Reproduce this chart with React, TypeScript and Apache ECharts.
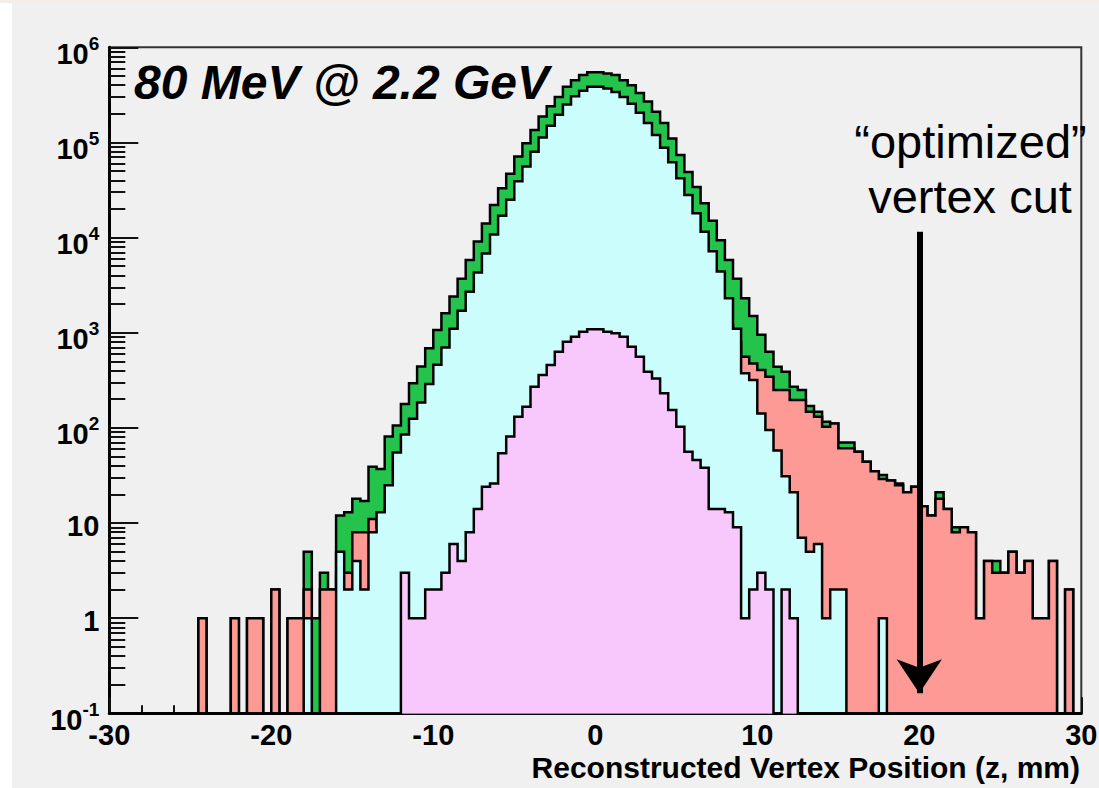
import React, { useEffect, useRef } from 'react';
import * as echarts from 'echarts';

const BIN_MIN = -30;
const BIN_WIDTH = 0.5;
const X_MIN = -30;
const X_MAX = 30;
const X_TICK = 10;
const Y_MIN = 0.1;
const Y_MAX = 1e6;
const CUT_POSITION = 20;
const ARROW_TOP = 11500;
const ARROW_END = 0.162;

// total (green)
const greenCounts = [
  0, 0, 0, 0, 0, 0, 0, 0, 0, 0,
  0, 1, 0, 0, 0, 1, 0, 1, 1, 0,
  2, 0, 1, 1, 5, 1, 3, 2, 12, 13,
  18, 17, 39, 37, 81, 106, 178, 294, 441, 686,
  1070, 1600, 2400, 3700, 5800, 9100, 14100, 22000, 33000, 47000,
  71000, 98000, 135000, 187000, 240000, 300000, 385000, 450000, 510000, 546000,
  546000, 530000, 510000, 450000, 400000, 330000, 270000, 210000, 160000, 110000,
  74000, 49000, 34000, 23000, 15000, 9400, 5800, 3700, 2300, 1500,
  950, 632, 440, 389, 271, 250, 170, 148, 116, 111,
  70, 70, 56, 44, 35, 32, 28, 26, 21, 24,
  15, 12, 21, 14, 9, 9, 8, 1, 4, 4,
  3, 5, 3, 4, 1, 1, 4, 0, 2, 0,
];

// red (salmon)
const redCounts = [
  0, 0, 0, 0, 0, 0, 0, 0, 0, 0,
  0, 1, 0, 0, 0, 1, 0, 1, 1, 0,
  2, 0, 1, 1, 2, 0, 2, 2, 3, 3,
  8, 8, 11, 9, 14, 22, 30, 45, 60, 90,
  130, 190, 280, 420, 620, 950, 1400, 2100, 3100, 4500,
  6500, 9000, 12500, 17000, 22000, 28000, 35000, 42000, 48000, 52000,
  52000, 50000, 46000, 41000, 35000, 29000, 23000, 18000, 14000, 10500,
  8000, 6000, 4500, 3300, 2400, 1700, 1200, 800, 560, 476,
  405, 345, 250, 250, 196, 196, 148, 131, 103, 111,
  61, 61, 56, 44, 35, 29, 28, 25, 21, 24,
  15, 12, 18, 14, 8, 9, 8, 1, 4, 3,
  3, 5, 3, 4, 1, 1, 4, 0, 2, 0,
];

// cyan
const cyanCounts = [
  0, 0, 0, 0, 0, 0, 0, 0, 0, 0,
  0, 0, 0, 0, 0, 0, 0, 0, 0, 0,
  0, 0, 0, 0, 1, 0, 0, 0, 5, 2,
  4, 2, 8, 13, 25, 55, 85, 125, 185, 290,
  460, 700, 1100, 1700, 2700, 4300, 6800, 10800, 17000, 25000,
  39000, 56000, 80000, 113000, 150000, 195000, 250000, 305000, 350000, 385000,
  385000, 370000, 340000, 300000, 255000, 205000, 160000, 120000, 88000, 62000,
  42000, 28000, 18000, 11500, 7200, 4400, 2300, 1100, 374, 318,
  142, 95, 58, 31, 21, 7, 5, 6, 1, 2,
  2, 0, 0, 0, 0, 1, 0, 0, 0, 0,
  0, 0, 0, 0, 0, 0, 0, 0, 0, 0,
  0, 0, 0, 0, 0, 0, 0, 0, 0, 0,
];

// pink
const pinkCounts = [
  0, 0, 0, 0, 0, 0, 0, 0, 0, 0,
  0, 0, 0, 0, 0, 0, 0, 0, 0, 0,
  0, 0, 0, 0, 0, 0, 0, 0, 0, 0,
  0, 0, 0, 0, 0, 0, 3, 1, 1, 2,
  2, 3, 6, 4, 8, 14, 24, 26, 54, 81,
  131, 167, 271, 359, 458, 632, 805, 908, 1026, 1085,
  1085, 1026, 985, 908, 713, 560, 389, 331, 231, 154,
  103, 56, 46, 38, 14, 14, 13, 9, 1, 2,
  3, 2, 0, 2, 1, 0, 0, 0, 0, 0,
  0, 0, 0, 0, 0, 0, 0, 0, 0, 0,
  0, 0, 0, 0, 0, 0, 0, 0, 0, 0,
  0, 0, 0, 0, 0, 0, 0, 0, 0, 0,
];

const FONT = '"Liberation Sans", Arial, Helvetica, sans-serif';

function toSteps(counts: number[]) {
  const pts: number[][] = counts.map((c, k) => [BIN_MIN + k * BIN_WIDTH, c > 0 ? c : Y_MIN]);
  const last = counts[counts.length - 1];
  pts.push([BIN_MIN + counts.length * BIN_WIDTH, last > 0 ? last : Y_MIN]);
  return pts;
}

function histSeries(name: string, counts: number[], fill: string, z: number) {
  return {
    type: 'line',
    name,
    step: 'end',
    z,
    data: toSteps(counts),
    showSymbol: false,
    symbol: 'none',
    silent: true,
    clip: true,
    lineStyle: { color: '#000', width: 2.5, join: 'miter', cap: 'butt' },
    areaStyle: { color: fill, opacity: 1, origin: 'start' },
    emphasis: { disabled: true },
  };
}

export default function App() {
  const ref = useRef<HTMLDivElement>(null);
  useEffect(() => {
    if (!ref.current) return;
    const chart = echarts.init(ref.current, null, { renderer: 'svg' });
    const option: any = {
      animation: false,
      backgroundColor: '#f0f0f0',
      grid: {
        left: 109.3,
        top: 47.3,
        right: 17.7,
        bottom: 74.7,
        show: true,
        borderColor: '#333',
        borderWidth: 2,
        backgroundColor: 'transparent',
        containLabel: false,
        outerBoundsMode: 'none',
      },
      xAxis: {
        type: 'value',
        min: X_MIN,
        max: X_MAX,
        interval: X_TICK,
        axisLine: { show: true, onZero: false, lineStyle: { color: '#000', width: 3 } },
        axisTick: { show: true, inside: true, length: 16, lineStyle: { color: '#111', width: 2 } },
        minorTick: { show: true, splitNumber: 5, length: 8, lineStyle: { color: '#111', width: 2 } },
        splitLine: { show: false },
        axisLabel: {
          margin: 7,
          fontSize: 29,
          fontWeight: 'bold',
          color: '#000',
          fontFamily: FONT,
          showMinLabel: true,
          showMaxLabel: true,
        },
      },
      yAxis: {
        type: 'log',
        logBase: 10,
        min: Y_MIN,
        max: Y_MAX,
        splitNumber: 7,
        axisLine: { show: true, onZero: false, lineStyle: { color: '#000', width: 3 } },
        axisTick: { show: true, inside: true, length: 29, lineStyle: { color: '#111', width: 2 } },
        minorTick: { show: true, splitNumber: 9, length: 16, lineStyle: { color: '#111', width: 2 } },
        splitLine: { show: false },
        axisLabel: {
          margin: 10,
          color: '#000',
          formatter: (v: number) => {
            const e = Math.round(Math.log10(v));
            if (e === 0) return '{c|1}';
            if (e === 1) return '{c|10}';
            return '{b|10}{s|' + e + '}';
          },
          rich: {
            b: {
              fontFamily: FONT,
              fontWeight: 'bold',
              fontSize: 29,
              color: '#000',
              height: 29,
              lineHeight: 42,
              verticalAlign: 'bottom',
            },
            s: {
              fontFamily: FONT,
              fontWeight: 'bold',
              fontSize: 19,
              color: '#000',
              height: 34,
              lineHeight: 34,
              verticalAlign: 'top',
            },
            c: {
              fontFamily: FONT,
              fontWeight: 'bold',
              fontSize: 29,
              color: '#000',
              height: 29,
              lineHeight: 35,
              verticalAlign: 'bottom',
            },
          },
        },
      },
      series: [
        histSeries('total', greenCounts, '#24c44c', 2),
        histSeries('red', redCounts, '#fd9a96', 3),
        histSeries('cyan', cyanCounts, '#cbfdfd', 4),
        histSeries('pink', pinkCounts, '#f8c8fc', 5),
        {
          type: 'scatter',
          name: 'cut',
          data: [],
          silent: true,
          z: 10,
          markLine: {
            silent: true,
            z: 10,
            symbol: ['none', 'arrow'],
            symbolSize: [34, 34],
            lineStyle: { color: '#000', width: 6, type: 'solid' },
            label: { show: false },
            emphasis: { disabled: true },
            data: [[{ coord: [CUT_POSITION, ARROW_TOP] }, { coord: [CUT_POSITION, ARROW_END] }]],
          },
        },
      ],
      graphic: [
        { type: 'rect', left: 0, top: 0, shape: { width: 12, height: 788 }, style: { fill: '#ffffff' }, silent: true },
        { type: 'rect', left: 0, top: 0, shape: { width: 1099, height: 3 }, style: { fill: '#f4efe4' }, silent: true },
        {
          type: 'text',
          x: 134,
          y: 82,
          silent: true,
          style: {
            text: '80 MeV @ 2.2 GeV',
            font: 'italic bold 48px ' + FONT,
            fill: '#000',
            align: 'left',
            verticalAlign: 'middle',
          },
        },
        {
          type: 'text',
          x: 970.5,
          y: 141.5,
          silent: true,
          style: {
            text: '\u201Coptimized\u201D',
            font: '47px ' + FONT,
            fill: '#000',
            align: 'center',
            verticalAlign: 'middle',
          },
        },
        {
          type: 'text',
          x: 970,
          y: 196.5,
          silent: true,
          style: {
            text: 'vertex cut',
            font: '47px ' + FONT,
            fill: '#000',
            align: 'center',
            verticalAlign: 'middle',
          },
        },
        {
          type: 'text',
          x: 1080,
          y: 767.5,
          silent: true,
          style: {
            text: 'Reconstructed Vertex Position (z, mm)',
            font: 'bold 30px ' + FONT,
            fill: '#000',
            align: 'right',
            verticalAlign: 'middle',
          },
        },
      ],
    };
    chart.setOption(option);
    return () => chart.dispose();
  }, []);
  return (
    <div
      ref={ref}
      style={{ position: 'absolute', left: 0, top: 0, width: 1099, height: 788 }}
    />
  );
}
